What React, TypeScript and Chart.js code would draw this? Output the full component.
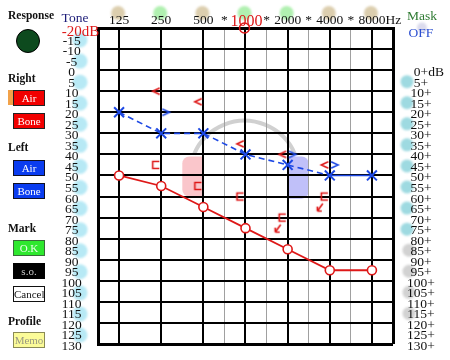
import React, { useEffect, useRef } from 'react';
import { Chart, registerables } from 'chart.js';

Chart.register(...registerables);

// ---------- data ----------
const FREQS = [125, 250, 500, 1000, 2000, 4000, 8000];
const FREQ_LABELS = ['125', '250', '500', '1000', '2000', '4000', '8000'];
const FREQ_BLOB = ['tan', 'green', 'tan', 'green', 'green', 'tan', 'tan'];
const HALF_FREQS = [707.1, 1414.2, 2828.4, 5656.9]; // inter-octave lines, marked "*"
const X_MIN = 88.39;
const X_MAX = 11313.7;
const DB_MIN = -20;
const DB_MAX = 130;

const LEFT_DB_LABELS = [-20, -15, -10, -5, 0, 5, 10, 15, 20, 25, 30, 35, 40, 45, 50, 55, 60, 65, 70, 75, 80, 85, 90, 95, 100, 105, 110, 115, 120, 125, 130];
const RIGHT_DB_LABELS = [0, 5, 10, 15, 20, 25, 30, 35, 40, 45, 50, 55, 60, 65, 70, 75, 80, 85, 90, 95, 100, 105, 110, 115, 120, 125, 130];
const LEFT_BLOB_DB = [-15, -5, 5, 15, 25, 35, 45, 55, 65, 75, 85, 95, 105, 115, 125];
const RIGHT_CYAN_DB = [5, 15, 25, 35, 45, 55, 65, 75];
const RIGHT_GRAY_DB = [85, 95, 105, 115];

const RIGHT_AIR = [50, 55, 65, 75, 85, 95, 95];
const LEFT_AIR = [20, 30, 30, 40, 45, 50, 50];
const RIGHT_BONE_FREQ = [250, 500, 1000, 2000, 4000];
const RIGHT_BONE = [10, 15, 35, 40, 45];
const LEFT_BONE_FREQ = [250, 2000, 4000];
const LEFT_BONE = [20, 40, 45];
const RIGHT_MASKED_FREQ = [250, 500, 1000, 2000, 4000];
const RIGHT_MASKED = [45, 55, 60, 70, 60];
const RIGHT_MASKED_NR = [false, false, false, true, true];

const PINK_ZONE = { f0: 353.6, f1: 500, db0: 41, db1: 60 };
const BLUE_ZONE = { f0: 2000, f1: 2828.4, db0: 41, db1: 61 };
const ARC = { f: 1000, db: 50, topDb: 24, endDb: 40 };

const RED = 'rgb(222,24,24)';
const BLUE = 'rgb(28,72,228)';
const SERIF = '"Liberation Serif", "Times New Roman", serif';

function glyph(kind: string, color: string): HTMLCanvasElement {
  const c = document.createElement('canvas');
  c.width = 40;
  c.height = 40;
  const g = c.getContext('2d')!;
  g.strokeStyle = color;
  g.lineWidth = 1.6;
  g.lineJoin = 'miter';
  const cx = 20;
  const cy = 20;
  g.beginPath();
  if (kind === 'lt') {
    const gx = cx - 5;
    g.moveTo(gx + 3.5, cy - 3.2);
    g.lineTo(gx - 3.5, cy);
    g.lineTo(gx + 3.5, cy + 3.2);
  } else if (kind === 'gt') {
    const gx = cx + 4.7;
    g.moveTo(gx - 3.5, cy - 3.2);
    g.lineTo(gx + 3.5, cy);
    g.lineTo(gx - 3.5, cy + 3.2);
  } else {
    const gx = cx - 5.3;
    g.moveTo(gx + 3.4, cy - 3.5);
    g.lineTo(gx - 3.2, cy - 3.5);
    g.lineTo(gx - 3.2, cy + 3.5);
    g.lineTo(gx + 3.4, cy + 3.5);
  }
  g.stroke();
  if (kind === 'brNR') {
    const sx = cx - 7;
    const sy = cy + 7;
    const tx = cx - 12.5;
    const ty = cy + 14.5;
    g.beginPath();
    g.moveTo(sx, sy);
    g.lineTo(tx, ty);
    g.moveTo(tx, ty);
    g.lineTo(tx, ty - 4.5);
    g.moveTo(tx, ty);
    g.lineTo(tx + 4.5, ty);
    g.stroke();
  }
  return c;
}

const decor = {
  id: 'decor',
  beforeDraw(chart: any) {
    const { ctx } = chart;
    const xs = chart.scales.x;
    const ys = chart.scales.y;
    const X = (f: number) => xs.getPixelForValue(f);
    const Y = (d: number) => ys.getPixelForValue(d);
    ctx.save();
    ctx.fillStyle = '#fff';
    ctx.fillRect(0, 0, chart.width, chart.height);

    // masking zones
    ctx.fillStyle = 'rgba(246,160,168,0.6)';
    ctx.beginPath();
    ctx.roundRect(X(PINK_ZONE.f0), Y(PINK_ZONE.db0), X(PINK_ZONE.f1) - X(PINK_ZONE.f0), Y(PINK_ZONE.db1) - Y(PINK_ZONE.db0), [7, 0, 0, 7]);
    ctx.fill();
    ctx.fillStyle = 'rgba(150,150,245,0.6)';
    ctx.beginPath();
    ctx.roundRect(X(BLUE_ZONE.f0), Y(BLUE_ZONE.db0), X(BLUE_ZONE.f1) - X(BLUE_ZONE.f0), Y(BLUE_ZONE.db1) - Y(BLUE_ZONE.db0), [0, 7, 7, 0]);
    ctx.fill();

    // grey arc
    const cx = X(ARC.f) - 1;
    const cy = Y(ARC.db);
    const r = cy - Y(ARC.topDb);
    const a = Math.asin(Math.min(1, (cy - Y(ARC.endDb)) / r));
    ctx.strokeStyle = 'rgba(200,200,200,0.85)';
    ctx.lineWidth = 4;
    ctx.beginPath();
    ctx.arc(cx, cy, r, Math.PI + a, 2 * Math.PI - a);
    ctx.stroke();

    // soft blobs behind labels
    ctx.filter = 'blur(1.2px)';
    const blob = (x: number, y: number, rad: number, col: string) => {
      ctx.fillStyle = col;
      ctx.beginPath();
      ctx.arc(x, y, rad, 0, Math.PI * 2);
      ctx.fill();
    };
    FREQS.forEach((f, i) => blob(X(f) - 1, 13, 7, FREQ_BLOB[i] === 'tan' ? 'rgba(205,185,140,0.7)' : 'rgba(150,235,150,0.75)'));
    LEFT_BLOB_DB.forEach((d) => blob(80, Y(d) + 1.5, 7.5, 'rgba(165,228,242,0.8)'));
    RIGHT_CYAN_DB.forEach((d) => blob(407, Y(d) + 1, 6.5, 'rgba(125,205,215,0.75)'));
    RIGHT_GRAY_DB.forEach((d) => blob(409, Y(d) + 1, 6.5, 'rgba(195,195,195,0.75)'));
    blob(422, 27.5, 5, 'rgba(175,175,215,0.45)');
    ctx.filter = 'none';
    ctx.restore();
  },
  afterDraw(chart: any) {
    const { ctx } = chart;
    const xs = chart.scales.x;
    const ys = chart.scales.y;
    const X = (f: number) => xs.getPixelForValue(f);
    const Y = (d: number) => ys.getPixelForValue(d);
    ctx.save();
    ctx.textBaseline = 'alphabetic';

    // top frequency labels
    FREQS.forEach((f, i) => {
      ctx.textAlign = 'center';
      if (f === 1000) {
        ctx.font = `16px ${SERIF}`;
        ctx.fillStyle = RED;
        ctx.fillText(FREQ_LABELS[i], X(f) + 1, 26);
      } else {
        ctx.font = `13.5px ${SERIF}`;
        ctx.fillStyle = '#111';
        ctx.fillText(FREQ_LABELS[i], X(f), 24);
        if (i === FREQS.length - 1) {
          const w = ctx.measureText(FREQ_LABELS[i]).width;
          ctx.textAlign = 'left';
          ctx.fillText('Hz', X(f) + w / 2, 24);
        }
      }
    });
    ctx.font = `13.5px ${SERIF}`;
    ctx.fillStyle = '#111';
    ctx.textAlign = 'center';
    HALF_FREQS.forEach((f) => ctx.fillText('*', X(f), 24));

    // red ring on 1000
    ctx.strokeStyle = RED;
    ctx.lineWidth = 1.5;
    ctx.beginPath();
    ctx.arc(X(1000) - 1, 28, 5, 0, Math.PI * 2);
    ctx.stroke();

    // left dB labels
    LEFT_DB_LABELS.forEach((d) => {
      ctx.textAlign = 'center';
      if (d === DB_MIN) {
        ctx.font = `15px ${SERIF}`;
        ctx.fillStyle = RED;
        const t = String(d);
        ctx.fillText(t, 71.7, Y(d) + 8);
        const w = ctx.measureText(t).width;
        ctx.textAlign = 'left';
        ctx.fillText('dB', 71.7 + w / 2, Y(d) + 8);
      } else {
        ctx.font = `13.5px ${SERIF}`;
        ctx.fillStyle = '#111';
        ctx.fillText(String(d), 71.7, Y(d) + 6);
      }
    });

    // right dB labels
    ctx.font = `13.5px ${SERIF}`;
    ctx.fillStyle = '#111';
    RIGHT_DB_LABELS.forEach((d) => {
      ctx.textAlign = 'center';
      const t = `${d}+`;
      ctx.fillText(t, 421, Y(d) + 6);
      if (d === 0) {
        const w = ctx.measureText(t).width;
        ctx.textAlign = 'left';
        ctx.fillText('dB', 421 + w / 2, Y(d) + 6);
      }
    });

    // header words
    ctx.textAlign = 'center';
    ctx.font = `13.5px ${SERIF}`;
    ctx.fillStyle = '#1c1c78';
    ctx.fillText('Tone', 75, 21.5);
    ctx.fillStyle = '#2e7a32';
    ctx.fillText('Mask', 422, 20);
    ctx.fillStyle = '#2c4fd0';
    ctx.fillText('OFF', 421, 36.5);
    ctx.restore();
  },
};

const GRID_FREQS = [X_MIN, 125, 250, 500, 707.1, 1000, 1414.2, 2000, 2828.4, 4000, 5656.9, 8000, X_MAX];

function ChartCanvas() {
  const ref = useRef<HTMLCanvasElement | null>(null);
  useEffect(() => {
    if (!ref.current) return;
    const ltImg = glyph('lt', RED);
    const gtImg = glyph('gt', BLUE);
    const brImg = glyph('br', RED);
    const brNrImg = glyph('brNR', RED);
    const chart = new Chart(ref.current, {
      type: 'line',
      data: {
        datasets: [
          {
            label: 'Right Air',
            data: FREQS.map((f, i) => ({ x: f, y: RIGHT_AIR[i] })),
            borderColor: RED,
            borderWidth: 1.8,
            pointStyle: 'circle',
            pointRadius: 4.5,
            pointBorderWidth: 1.6,
            pointBackgroundColor: '#fff',
            pointBorderColor: RED,
            tension: 0,
          },
          {
            label: 'Left Air',
            data: FREQS.map((f, i) => ({ x: f, y: LEFT_AIR[i] })),
            borderColor: BLUE,
            borderWidth: 1.6,
            segment: {
              borderDash: (c: any) => (c.p0DataIndex === FREQS.length - 2 ? [] : [6, 4]),
            },
            pointStyle: 'crossRot',
            pointRadius: 7,
            pointBorderWidth: 2,
            pointBorderColor: BLUE,
            pointBackgroundColor: BLUE,
            tension: 0,
          },
          {
            label: 'Right Bone',
            data: RIGHT_BONE_FREQ.map((f, i) => ({ x: f, y: RIGHT_BONE[i] })),
            showLine: false,
            pointStyle: ltImg as any,
            pointRadius: 5,
          },
          {
            label: 'Left Bone',
            data: LEFT_BONE_FREQ.map((f, i) => ({ x: f, y: LEFT_BONE[i] })),
            showLine: false,
            pointStyle: gtImg as any,
            pointRadius: 5,
          },
          {
            label: 'Right Masked Bone',
            data: RIGHT_MASKED_FREQ.map((f, i) => ({ x: f, y: RIGHT_MASKED[i] })),
            showLine: false,
            pointStyle: RIGHT_MASKED_NR.map((nr) => (nr ? brNrImg : brImg)) as any,
            pointRadius: 5,
          },
        ],
      },
      options: {
        responsive: false,
        maintainAspectRatio: false,
        animation: false,
        events: [],
        layout: { padding: { left: 98, top: 28, right: 57, bottom: 16 } },
        plugins: { legend: { display: false }, tooltip: { enabled: false } },
        scales: {
          x: {
            type: 'logarithmic',
            position: 'top',
            min: X_MIN,
            max: X_MAX,
            afterBuildTicks: (s: any) => {
              s.ticks = GRID_FREQS.map((v) => ({ value: v }));
            },
            ticks: { display: false },
            grid: {
              drawTicks: false,
              color: (c: any) => {
                const v = c.tick ? c.tick.value : 0;
                if (c.index === 0 || c.index === GRID_FREQS.length - 1) return '#000';
                return FREQS.includes(v) ? '#000' : '#a0a0a0';
              },
              lineWidth: (c: any) => {
                const v = c.tick ? c.tick.value : 0;
                if (c.index === 0 || c.index === GRID_FREQS.length - 1) return 3;
                return FREQS.includes(v) ? 2 : 1;
              },
            },
            border: { display: true, color: '#000', width: 3 },
          },
          y: {
            type: 'linear',
            reverse: true,
            min: DB_MIN,
            max: DB_MAX,
            ticks: { display: false, stepSize: 10 },
            grid: {
              drawTicks: false,
              color: '#000',
              lineWidth: (c: any) => {
                const v = c.tick ? c.tick.value : 0;
                return v === DB_MIN || v === DB_MAX ? 3 : 2;
              },
            },
            border: { display: true, color: '#000', width: 3 },
          },
        },
      },
      plugins: [decor as any],
    });
    return () => chart.destroy();
  }, []);
  return <canvas ref={ref} width={450} height={360} style={{ position: 'absolute', left: 0, top: 0, display: 'block' }} />;
}

function Word({ x, y, text }: { x: number; y: number; text: string }) {
  return (
    <div style={{ position: 'absolute', left: x, top: y - 8, height: 16, lineHeight: '16px', font: `bold 11.5px ${SERIF}`, color: '#111', whiteSpace: 'nowrap' }}>
      {text}
    </div>
  );
}

function Btn({ y, text, bg, color, border }: { y: number; text: string; bg: string; color: string; border: string }) {
  return (
    <div
      style={{
        position: 'absolute',
        left: 13,
        top: y,
        width: 32,
        height: 16,
        boxSizing: 'border-box',
        background: bg,
        border: `1px solid ${border}`,
        color,
        font: `11px ${SERIF}`,
        lineHeight: '14px',
        textAlign: 'center',
        whiteSpace: 'nowrap',
      }}
    >
      {text}
    </div>
  );
}

export default function App() {
  return (
    <div style={{ position: 'absolute', left: 0, top: 0, width: 450, height: 360, background: '#fff', overflow: 'hidden', fontFamily: SERIF }}>
      <ChartCanvas />
      <Word x={8} y={17} text="Response" />
      <div style={{ position: 'absolute', left: 16, top: 29, width: 24, height: 24, boxSizing: 'border-box', borderRadius: '50%', background: '#0d4a1e', border: '1px solid #000' }} />
      <Word x={8} y={80} text="Right" />
      <div style={{ position: 'absolute', left: 8, top: 90, width: 5, height: 15, background: '#f2a24a' }} />
      <Btn y={90} text="Air" bg="#f20000" color="#fff" border="#222" />
      <Btn y={113} text="Bone" bg="#f20000" color="#fff" border="#222" />
      <Word x={8} y={149} text="Left" />
      <Btn y={160} text="Air" bg="#0a3cf0" color="#fff" border="#112" />
      <Btn y={183} text="Bone" bg="#0a3cf0" color="#fff" border="#112" />
      <Word x={8} y={230} text="Mark" />
      <Btn y={240} text="O.K" bg="#2ee82e" color="#e8ffe8" border="#3a6a3a" />
      <Btn y={263} text="s.o." bg="#000" color="#c8c8c8" border="#000" />
      <Btn y={286} text="Cancel" bg="#fff" color="#111" border="#111" />
      <Word x={8} y={323} text="Profile" />
      <Btn y={332} text="Memo" bg="#fbfb98" color="#9a9a80" border="#8a8a55" />
    </div>
  );
}
